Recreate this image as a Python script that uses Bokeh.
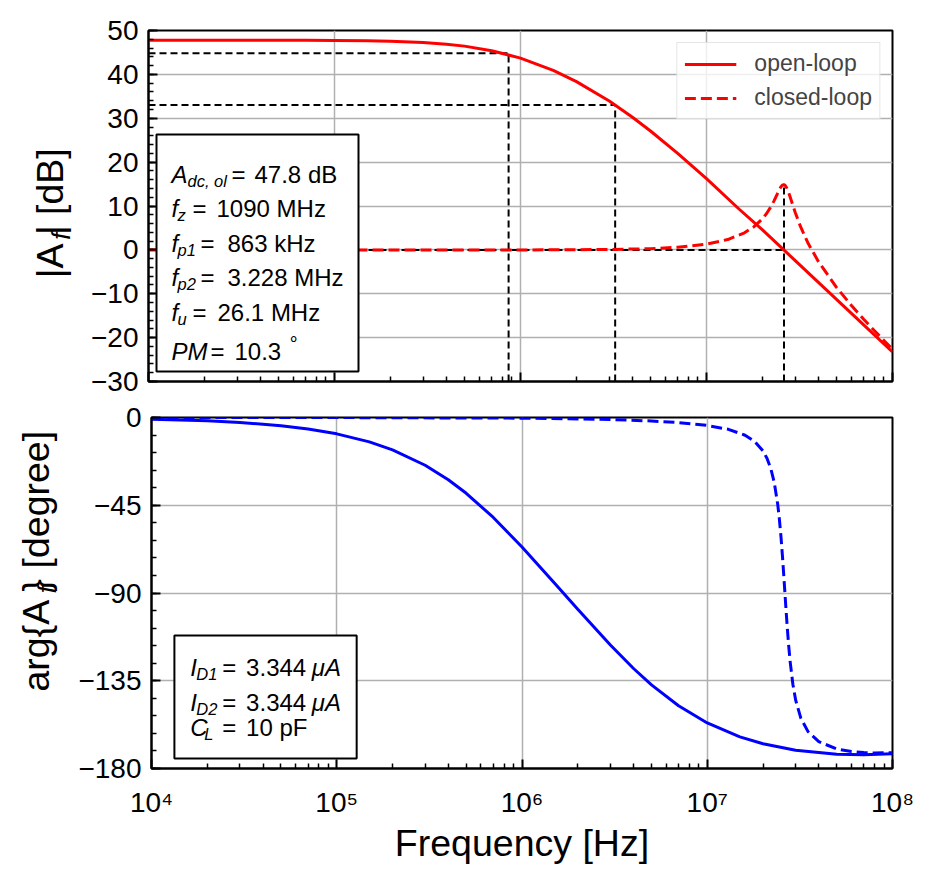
import math
from bokeh.plotting import figure
from bokeh.models import (FixedTicker, Label, BoxAnnotation, Legend, LegendItem, Range1d)
from bokeh.layouts import column, row
from bokeh.embed import file_html
from bokeh.resources import INLINE

FONT = "Liberation Sans"

# ---------------- data ----------------
freq_ol = [1e4, 2e4, 3e4, 5e4, 7e4, 1e5, 1.5e5, 2e5, 3e5, 4e5, 5e5, 7e5, 1e6, 1.5e6,
           2e6, 3e6, 4e6, 5e6, 7e6, 1e7, 1.5e7, 2e7, 3e7, 5e7, 7e7, 1e8]
mag_ol = [47.80, 47.80, 47.79, 47.78, 47.77, 47.74, 47.66, 47.56, 47.27, 46.89, 46.44, 45.40,
          43.71, 40.91, 38.35, 33.93, 30.24, 27.10, 21.99, 16.24, 9.26, 4.54, -2.44, -11.27,
          -17.10, -23.27]
phase_ol = [-0.84, -1.68, -2.52, -4.20, -5.88, -8.38, -12.52, -16.60, -24.48, -31.93, -38.87,
            -51.25, -66.37, -84.94, -98.33, -116.69, -128.72, -137.10, -147.85, -156.65,
            -163.78, -167.31, -170.63, -172.69, -172.98, -172.42]

freq_cl = [1e4, 1e5, 1e6, 3e6, 5e6, 7e6, 1e7, 1.3e7, 1.6e7, 1.8e7, 2e7, 2.1e7, 2.2e7, 2.3e7,
           2.4e7, 2.45e7, 2.5e7, 2.55e7, 2.6e7, 2.65e7, 2.7e7, 2.75e7, 2.8e7, 2.9e7, 3e7,
           3.2e7, 3.5e7, 4e7, 5e7, 6e7, 7e7, 8e7, 1e8]
mag_cl = [-0.04, -0.04, -0.02, 0.08, 0.28, 0.60, 1.30, 2.36, 3.89, 5.28, 7.11, 8.24, 9.56,
          11.06, 12.71, 13.52, 14.22, 14.72, 14.89, 14.69, 14.14, 13.34, 12.40, 10.41, 8.54,
          5.35, 1.69, -2.69, -8.54, -12.62, -15.80, -18.43, -22.66]
phase_cl = [0.00, -0.03, -0.34, -1.04, -1.78, -2.60, -4.07, -6.07, -9.10, -12.24, -17.18,
            -20.87, -25.97, -33.34, -44.41, -51.95, -61.12, -71.85, -83.69, -95.75, -106.99,
            -116.78, -124.93, -136.93, -144.86, -154.21, -161.11, -166.23, -169.96, -171.30,
            -171.84, -172.02, -171.86]

# guide lines: f_p1, f_p2, f_u
guide_freq = [863e3, 3.228e6, 26.1e6]
guide_level = [44.8, 33.0, 0.0]
guide_top = [44.8, 33.0, 14.9]

freq_ticks = [1e4, 1e5, 1e6, 1e7, 1e8]
freq_tick_labels = ["10\u2074", "10\u2075", "10\u2076", "10\u2077", "10\u2078"]
mag_ticks = [-30, -20, -10, 0, 10, 20, 30, 40, 50]
phase_ticks = [-180, -135, -90, -45, 0]

info_top = [("A", "dc, ol", "47.8 dB"), ("f", "z", "1090 MHz"), ("f", "p1", "863 kHz"),
            ("f", "p2", "3.228 MHz"), ("f", "u", "26.1 MHz")]
info_bottom = [("I", "D1", "3.344", "\u03bcA"), ("I", "D2", "3.344", "\u03bcA"),
               ("C", "L", "10 pF", "")]

# ---------------- layout (page pixels) ----------------
LW = 75                       # width of the y-label strip
W = 933 - LW
FL, FR = 148, 892             # frame left/right on the page
L_B = FL - LW
R_B = W - L_B - (FR - FL)
FH = 351
T1, B1 = 30, 16
H1 = T1 + FH + B1             # 397
T2, B2 = 20, 110
H2 = T2 + FH + B2             # 481
F1_TOP = T1                   # 30
F2_TOP = H1 + T2              # 417

x_lo, x_hi = freq_ticks[0], freq_ticks[-1]
dec_px = (FR - FL) / (math.log10(x_hi) - math.log10(x_lo))


def fx(px):
    return 10 ** (math.log10(x_lo) + (px - FL) / dec_px)


def fy1(py):
    return mag_ticks[-1] - (py - F1_TOP) * (mag_ticks[-1] - mag_ticks[0]) / FH


def fy2(py):
    return phase_ticks[-1] - (py - F2_TOP) * (phase_ticks[-1] - phase_ticks[0]) / FH


minor_x = [k * 10 ** n for n in range(4, 8) for k in range(2, 10)]


def style(p, yticks, yminor, ylabels):
    p.outline_line_color = "black"
    p.outline_line_width = 2
    p.outline_line_alpha = 1
    p.xaxis.ticker = FixedTicker(ticks=freq_ticks, minor_ticks=minor_x)
    p.xgrid.ticker = FixedTicker(ticks=freq_ticks)
    p.yaxis.ticker = FixedTicker(ticks=yticks, minor_ticks=yminor)
    p.ygrid.ticker = FixedTicker(ticks=yticks)
    for g in (p.xgrid, p.ygrid):
        g.grid_line_color = "#b0b0b0"
        g.grid_line_width = 1.5
        g.grid_line_alpha = 1
    for ax in p.axis:
        ax.major_tick_in = 9
        ax.major_tick_out = 0
        ax.minor_tick_in = 5
        ax.minor_tick_out = 0
        ax.major_tick_line_width = 2
        ax.minor_tick_line_width = 1.5
        ax.axis_line_width = 2
        ax.axis_line_color = "black"
        ax.major_tick_line_color = "black"
        ax.minor_tick_line_color = "black"
        ax.major_label_text_font = FONT
        ax.major_label_text_font_size = "28px"
        ax.major_label_text_color = "black"
    p.yaxis.major_label_overrides = ylabels
    p.yaxis.major_label_standoff = 10


def lab(p, x, y, text, size="24px", style_="normal", **kw):
    p.add_layout(Label(x=x, y=y, text=text, text_font=FONT, text_font_size=size,
                       text_font_style=style_, text_color="black",
                       text_baseline="alphabetic", text_align="left", **kw))


def vlab(p, x, y, text, size="37.5px", style_="normal"):
    # rotated text, anchored at its centre
    p.add_layout(Label(x=x, y=y, text=text, text_font=FONT, text_font_size=size,
                       text_font_style=style_, text_color="black", angle=math.pi / 2,
                       text_baseline="middle", text_align="center"))


def strip(h):
    s = figure(width=LW, height=h, x_range=Range1d(0, LW), y_range=Range1d(0, h),
               x_axis_location=None, y_axis_location=None, toolbar_location=None,
               output_backend="svg", min_border=0, title=None)
    s.outline_line_color = None
    s.grid.visible = False
    return s


# ---------------- top: magnitude ----------------
p1 = figure(width=W, height=H1, x_axis_type="log", output_backend="svg",
            toolbar_location=None, x_range=Range1d(x_lo, x_hi),
            y_range=Range1d(mag_ticks[0], mag_ticks[-1]),
            min_border_left=L_B, min_border_right=R_B, min_border_top=T1, min_border_bottom=B1)
style(p1, mag_ticks, list(range(mag_ticks[0], mag_ticks[-1] + 1, 2)),
      {t: str(t).replace("-", "\u2212") for t in mag_ticks})
p1.xaxis.major_label_overrides = {t: "" for t in freq_ticks}
p1.xaxis.major_label_standoff = 0

# guide lines
p1.segment(x0=[x_lo] * len(guide_freq), y0=guide_level, x1=guide_freq, y1=guide_level,
           line_color="black", line_width=2, line_dash="7 4")
p1.segment(x0=guide_freq, y0=[mag_ticks[0]] * len(guide_freq), x1=guide_freq, y1=guide_top,
           line_color="black", line_width=2, line_dash="7 4")

r_ol = p1.line(freq_ol, mag_ol, line_color="#ff0000", line_width=3)
r_cl = p1.line(freq_cl, mag_cl, line_color="#ff0000", line_width=3, line_dash="11 5")

legend = Legend(items=[LegendItem(label="open-loop", renderers=[r_ol]),
                       LegendItem(label="closed-loop", renderers=[r_cl])],
                location="top_right", label_text_font=FONT, label_text_font_size="23px",
                glyph_width=52, glyph_height=24, label_height=24, spacing=7, padding=7,
                margin=12, label_standoff=18, border_line_color="#cccccc",
                border_line_width=1.5, background_fill_color="white",
                background_fill_alpha=0.8)
p1.add_layout(legend)

# info box (top)
p1.add_layout(BoxAnnotation(left=fx(156), right=fx(358), top=fy1(134), bottom=fy1(371),
                            fill_color="white", fill_alpha=1, line_color="black",
                            line_width=2, line_alpha=1))
base_top = [174, 208.3, 242.7, 277.3, 312.3]
eq_x = [231, 192, 200, 200, 192]
val_x = [254, 216, 227, 227, 217]
sub_x = [187, 177, 177, 177, 177]
for (sym, sub, val), by, ex, vx, sx in zip(info_top, base_top, eq_x, val_x, sub_x):
    lab(p1, fx(171), fy1(by), sym, style_="italic")
    lab(p1, fx(sx), fy1(by + 6.5), sub, size="16.5px", style_="italic")
    lab(p1, fx(ex), fy1(by), "=")
    lab(p1, fx(vx), fy1(by), val)
lab(p1, fx(171), fy1(350.7), "PM", style_="italic")
lab(p1, fx(210), fy1(350.7), "=")
lab(p1, fx(234), fy1(350.7), "10.3")
lab(p1, fx(287), fy1(337), "\u2218", size="18px")

# y label strip (top); strip y runs upward from the figure bottom
s1 = strip(H1)
vlab(s1, 49.0, H1 - 205.5, "|A | [dB]")
vlab(s1, 60.0, H1 - 232.5, "f", size="26px", style_="italic")

# ---------------- bottom: phase ----------------
p2 = figure(width=W, height=H2, x_axis_type="log", output_backend="svg",
            toolbar_location=None, x_range=Range1d(x_lo, x_hi),
            y_range=Range1d(phase_ticks[0], phase_ticks[-1]),
            min_border_left=L_B, min_border_right=R_B, min_border_top=T2, min_border_bottom=B2)
style(p2, phase_ticks, list(range(phase_ticks[0], phase_ticks[-1] + 1, 9)),
      {t: str(t).replace("-", "\u2212") for t in phase_ticks})
p2.xaxis.major_label_overrides = dict(zip(freq_ticks, freq_tick_labels))
p2.xaxis.major_label_standoff = 18
p2.xaxis.axis_label = "Frequency [Hz]"
p2.xaxis.axis_label_text_font = FONT
p2.xaxis.axis_label_text_font_size = "37.5px"
p2.xaxis.axis_label_text_font_style = "normal"
p2.xaxis.axis_label_text_color = "black"
p2.xaxis.axis_label_standoff = 1

p2.line(freq_ol, phase_ol, line_color="#0000ff", line_width=3)
p2.line(freq_cl, phase_cl, line_color="#0000ff", line_width=3, line_dash="11 5")

p2.add_layout(BoxAnnotation(left=fx(171), right=fx(354), top=fy2(635), bottom=fy2(758),
                            fill_color="white", fill_alpha=1, line_color="black",
                            line_width=2, line_alpha=1))
base_bot = [666.7, 701.7, 727.3]
sub_bx = [193, 193, 201]
for (sym, sub, val, unit), by, sx in zip(info_bottom, base_bot, sub_bx):
    lab(p2, fx(187), fy2(by), sym, style_="italic")
    lab(p2, fx(sx), fy2(by + 6.5), sub, size="16.5px", style_="italic")
    lab(p2, fx(219), fy2(by), "=")
    lab(p2, fx(243), fy2(by), val)
    if unit:
        lab(p2, fx(309), fy2(by), unit, style_="italic")

# y label strip (bottom): centre of the bottom frame is page y 592.5
s2 = strip(H2)
vlab(s2, 35.0, H2 - (592.5 - H1), "arg{A } [degree]")
vlab(s2, 46.0, H2 - (633.0 - H1), "f", size="26px", style_="italic")

layout = column(row(s1, p1), row(s2, p2))
open("out.html", "w").write(file_html(layout, INLINE))
